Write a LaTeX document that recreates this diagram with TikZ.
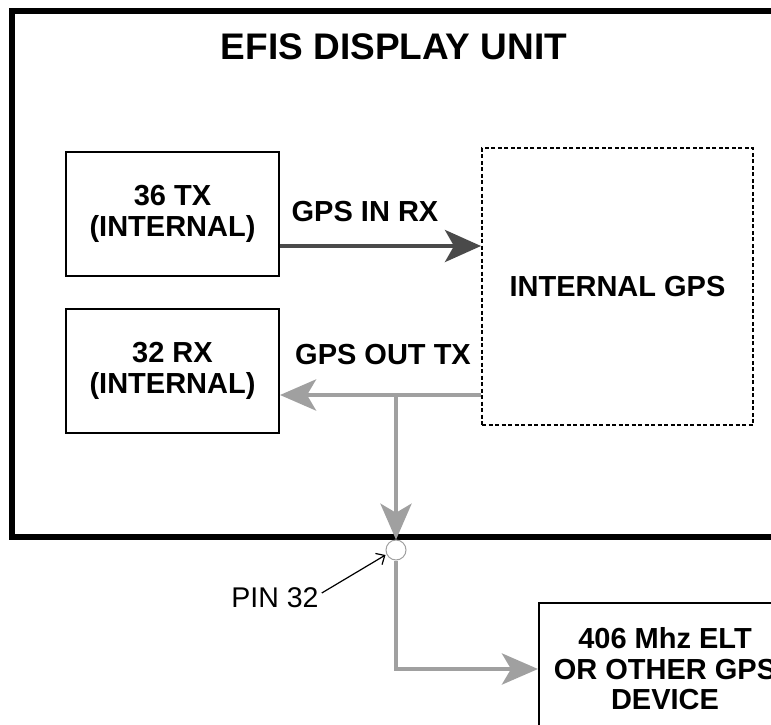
\documentclass[tikz,border=0pt]{standalone}
\usepackage{fontspec}
\setmainfont{Liberation Sans}
\usetikzlibrary{arrows.meta}
\definecolor{darkarrow}{HTML}{4A4A4A}
\definecolor{lightarrow}{HTML}{A0A0A0}
\begin{document}
\begin{tikzpicture}[x=1pt,y=-1pt,
  box/.style={draw=black, line width=2pt, inner sep=0pt, align=center,
    font=\fontsize{29}{30.5}\selectfont\bfseries},
  lbl/.style={font=\fontsize{29}{30.5}\selectfont\bfseries, inner sep=0pt},
  darkconn/.style={draw=darkarrow, line width=4pt,
    -{Stealth[length=36pt,width=32pt,inset=9pt]}},
  lightconn/.style={draw=lightarrow, line width=4.5pt},
  lighttip/.style={-{Stealth[length=36pt,width=31pt,inset=9pt]}},
  pinstyle/.style={circle, draw=lightarrow, fill=white, line width=1pt,
    minimum size=20pt, inner sep=0pt}]
\useasboundingbox (0,0) rectangle (771,725);
% outer unit box
\node[draw=black, line width=5.5pt, minimum width=778pt, minimum height=526pt,
  inner sep=0pt] (efis) at (401,274) {};
\node[font=\fontsize{37}{40}\selectfont\bfseries, inner sep=0pt] (title) at (394,47) {EFIS DISPLAY UNIT};
% inner boxes
\node[box, minimum width=213pt, minimum height=124pt] (tx36) at (172.5,214) {36 TX\\(INTERNAL)};
\node[box, minimum width=213pt, minimum height=124pt] (rx32) at (172.5,371) {32 RX\\(INTERNAL)};
\node[box, dash pattern=on 4pt off 2.5pt, minimum width=271pt, minimum height=277pt] (igps) at (617.5,286.5) {INTERNAL GPS};
\node[box, minimum width=252pt, minimum height=132pt] (elt) at (665,669) {406 Mhz ELT\\OR OTHER GPS\\DEVICE};
% labels
\node[lbl] (inlbl) at (365,212) {GPS IN RX};
\node[lbl] (outlbl) at (383,355) {GPS OUT TX};
% connectors
\draw[darkconn] (tx36.east |- 0,246) -- (igps.west |- 0,246);
\coordinate (j) at (396,395);
\draw[lightconn, lighttip] (igps.west |- j) -- (rx32.east |- j);
\draw[lightconn, lighttip] (j) -- (j |- efis.south);
\node[pinstyle] (pin) at (396,550) {};
\draw[lightconn, lighttip] (pin.south) |- (elt.west);
\node[font=\fontsize{28.5}{31}\selectfont, inner sep=0pt] (pinlbl) at (275,598) {PIN 32};
\coordinate (pa) at ([shift={(3,-5)}]pinlbl.east);
\draw[line width=1.2pt, -{Straight Barb[length=7pt,width=13pt]}] (pa) -- (pin.west |- 0,555);
\end{tikzpicture}
\end{document}
